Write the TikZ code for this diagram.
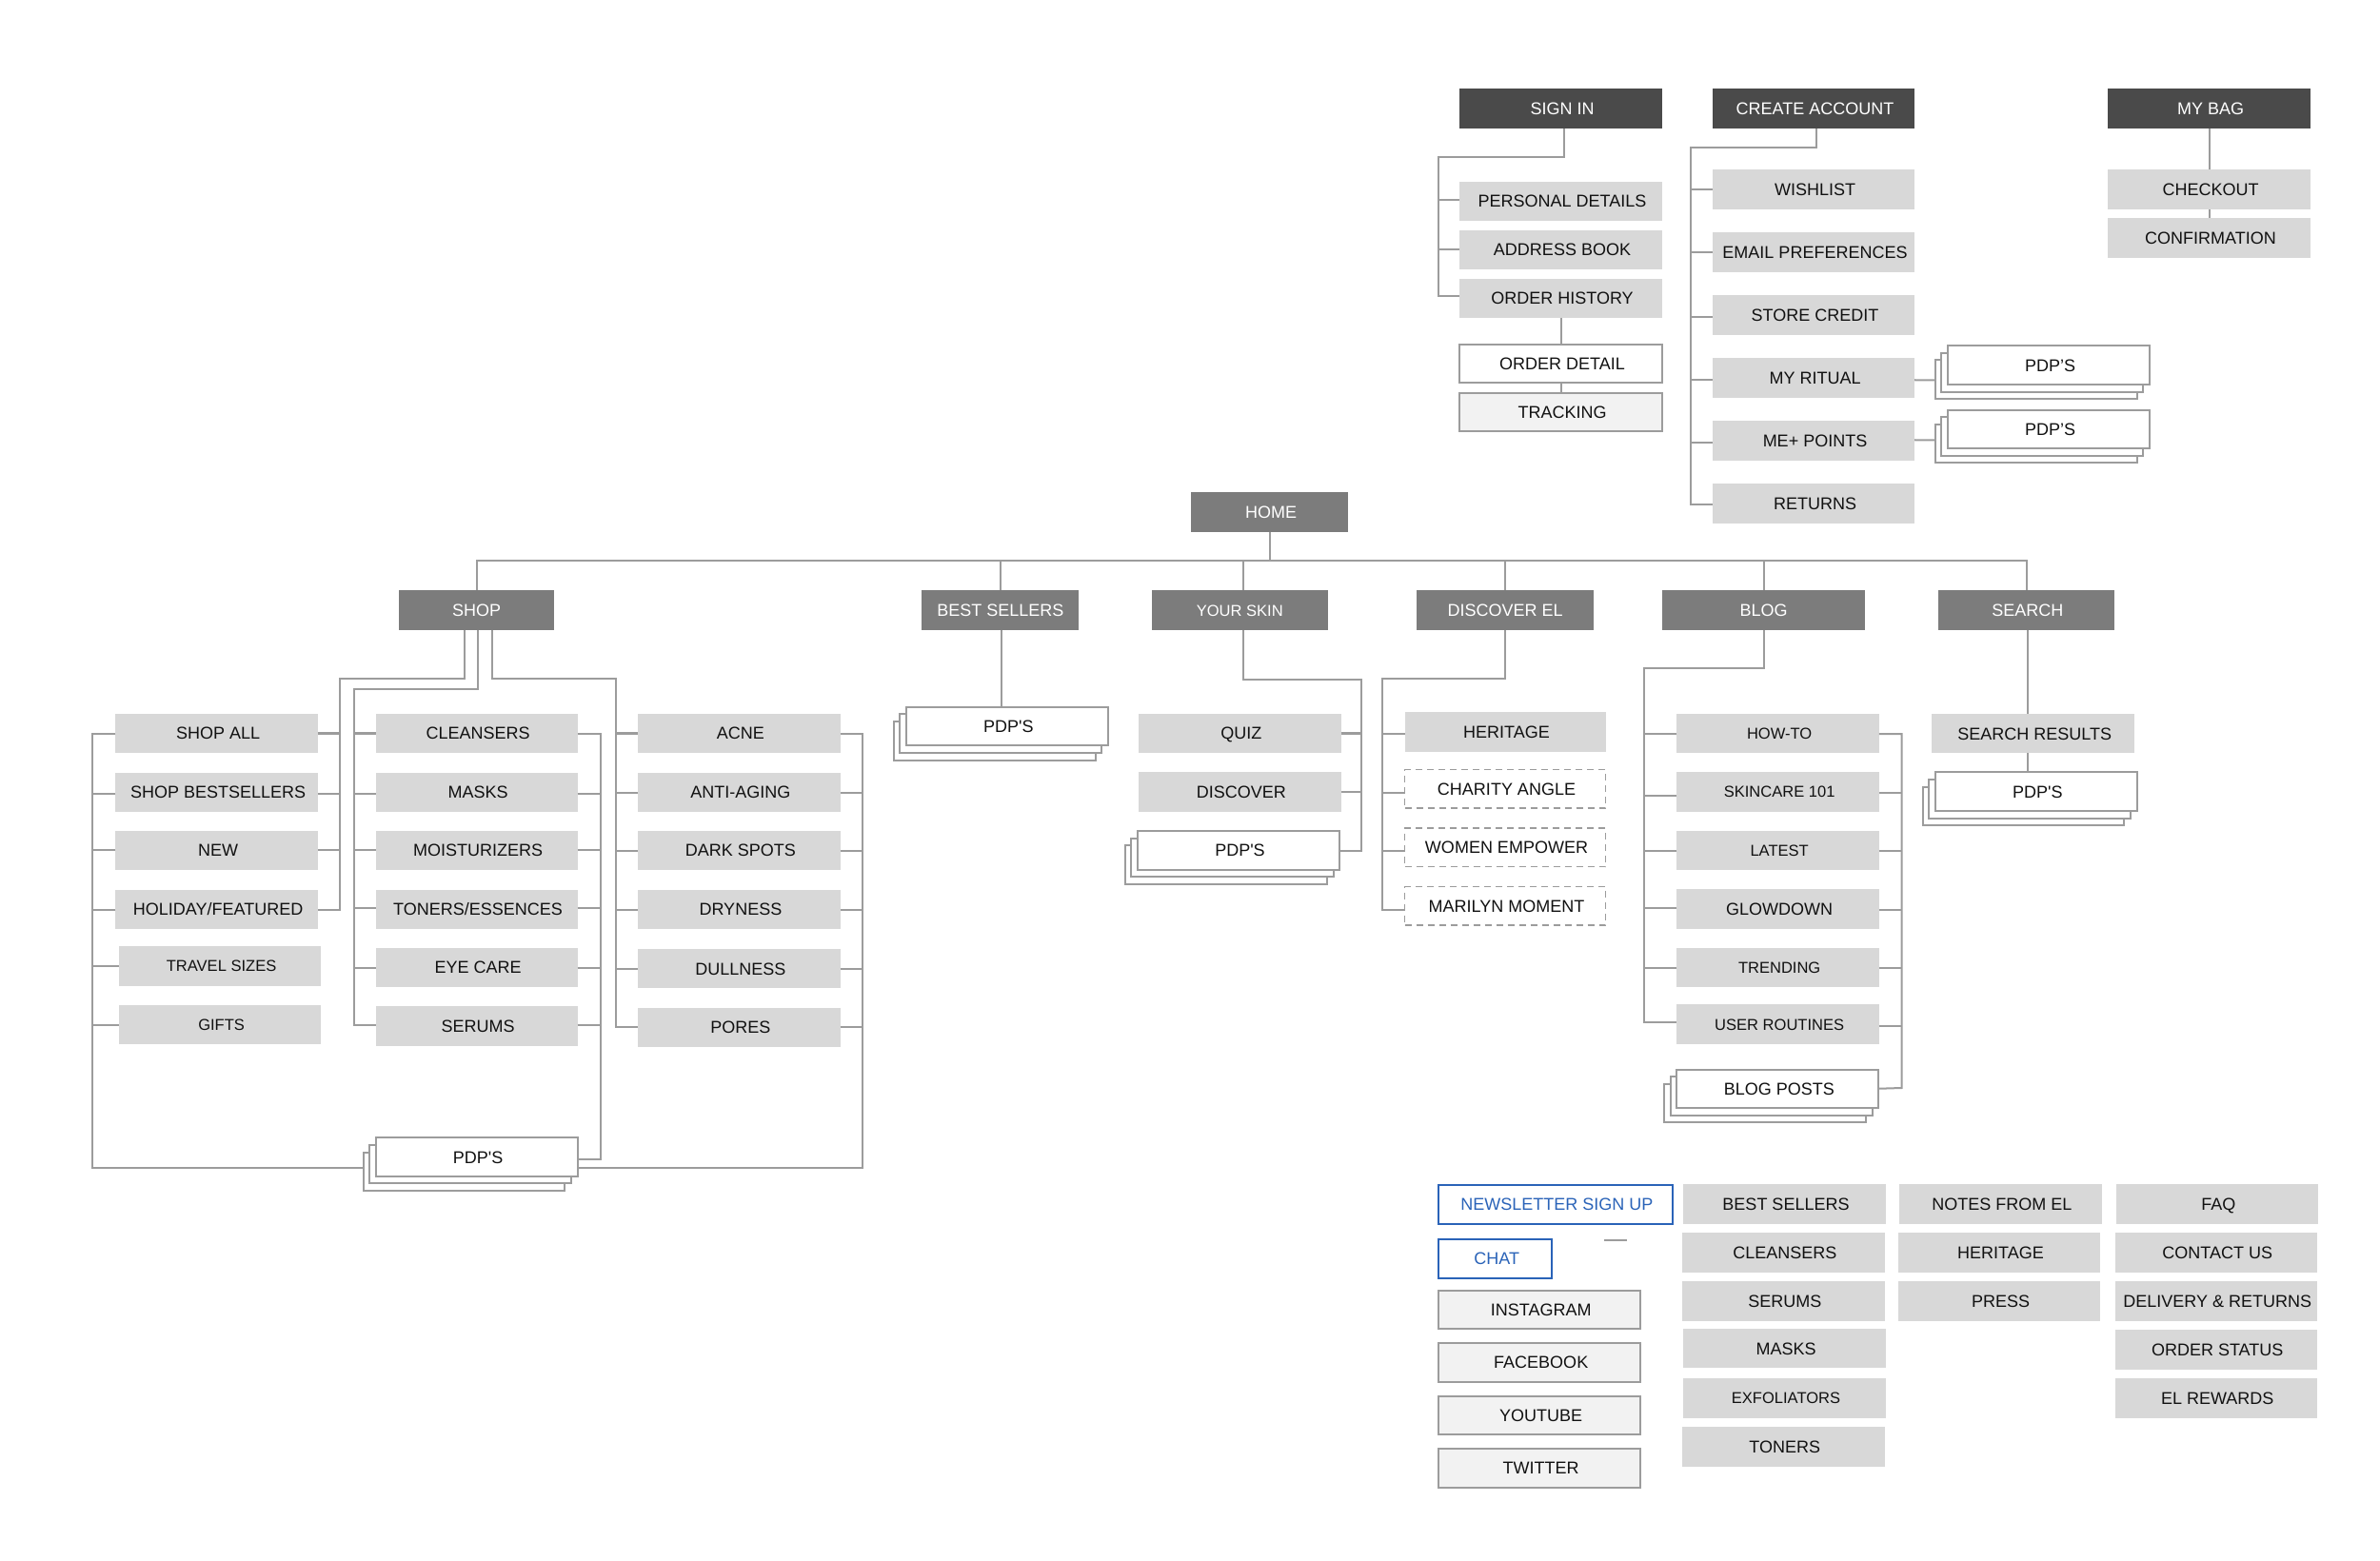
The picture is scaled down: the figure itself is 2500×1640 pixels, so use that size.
\documentclass[tikz,border=0pt]{standalone}
\usepackage{fontspec}
\newfontfamily\lsans{Liberation Sans}
\usetikzlibrary{calc}
\definecolor{cdark}{HTML}{4A4A4A}
\definecolor{cmid}{HTML}{7C7C7C}
\definecolor{clite}{HTML}{D8D8D8}
\definecolor{cpale}{HTML}{F2F2F2}
\definecolor{cline}{HTML}{9C9C9C}
\definecolor{cblue}{HTML}{2A63B8}
\definecolor{cink}{HTML}{111111}
\newcommand\tsh{\hspace*{0.03cm}}
\tikzset{
  x=0.01cm,y=-0.01cm,
  core/.style={inner sep=0pt,outer sep=0pt,text=cink,text height=3.67pt,text depth=0pt,font=\lsans\fontsize{5.12}{6}\selectfont},
  base/.style={core,execute at begin node=\tsh},
  sm/.style={font=\lsans\fontsize{4.7}{6}\selectfont,text height=3.37pt},
  dk/.style={base,fill=cdark,text=white},
  md/.style={core,fill=cmid,text=white},
  lt/.style={base,fill=clite},
  wh/.style={base,fill=white,draw=cline,line width=0.02cm},
  pl/.style={base,fill=cpale,draw=cline,line width=0.02cm},
  ds/.style={base,fill=white,draw=cline,line width=0.015cm,dash pattern=on 0.07cm off 0.05cm},
  bl/.style={base,fill=white,draw=cblue,line width=0.02cm,text=cblue},
  cn/.style={draw=cline,line width=0.02cm},
}
\newcommand\nd[7][]{%
  \pgfmathsetmacro\ndW{(#5-#3)*0.01}\pgfmathsetmacro\ndH{(#6-#4)*0.01}%
  \pgfmathsetmacro\ndX{(#3+#5)/2}\pgfmathsetmacro\ndY{(#4+#6)/2}%
  \node[#2,#1,minimum width=\ndW cm,minimum height=\ndH cm] (#7) at (\ndX,\ndY)}
% stack: name, top box x0 y0 x1 y1, text
\newcommand\stk[6][]{%
  \pgfmathsetmacro\sA{#3-13.2}\pgfmathsetmacro\sB{#4+15.2}\pgfmathsetmacro\sC{#5-13.2}\pgfmathsetmacro\sD{#6+15.2}%
  \nd{wh}{\sA}{\sB}{\sC}{\sD}{#2c}{};%
  \pgfmathsetmacro\sA{#3-6.6}\pgfmathsetmacro\sB{#4+7.6}\pgfmathsetmacro\sC{#5-6.6}\pgfmathsetmacro\sD{#6+7.6}%
  \nd{wh}{\sA}{\sB}{\sC}{\sD}{#2b}{};%
  \nd[#1]{wh}{#3}{#4}{#5}{#6}{#2}}
% horizontal tick between a node side and a rail: anchor point, rail, vertical offset
\newcommand\tk[3][0]{\draw[cn] ($(#2)+(0,#1)$) -- ($(#2 -| #3)+(0,#1)$);}
\begin{document}
\begin{tikzpicture}
\useasboundingbox (0,0) rectangle (2500,1640);
% ---- top row
\nd{dk}{1533}{93}{1746}{135}{signin}{SIGN IN};
\nd{dk}{1799}{93}{2011}{135}{create}{CREATE ACCOUNT};
\nd{dk}{2214}{93}{2427}{135}{mybag}{MY BAG};
\nd{lt}{1533}{191}{1746}{232}{pers}{PERSONAL DETAILS};
\nd{lt}{1533}{242}{1746}{283}{addr}{ADDRESS BOOK};
\nd{lt}{1533}{293}{1746}{334}{ordh}{ORDER HISTORY};
\nd{wh}{1533}{362}{1746}{402.5}{ordd}{ORDER DETAIL};
\nd{pl}{1533}{413}{1746}{453.5}{track}{TRACKING};
\nd{lt}{1799}{178.5}{2011}{220}{wish}{WISHLIST};
\nd{lt}{1799}{244.5}{2011}{286}{email}{EMAIL PREFERENCES};
\nd{lt}{1799}{310.5}{2011}{352}{store}{STORE CREDIT};
\nd{lt}{1799}{376.5}{2011}{418}{ritual}{MY RITUAL};
\nd{lt}{1799}{442.5}{2011}{484}{mepts}{ME+ POINTS};
\nd{lt}{1799}{508.5}{2011}{550}{retn}{RETURNS};
\nd{lt}{2214}{178.5}{2427}{220}{chk}{CHECKOUT};
\nd{lt}{2214}{229.5}{2427}{271}{conf}{CONFIRMATION};
\stk{pdpr}{2046}{363.3}{2258}{404}{PDP’S};
\stk{pdpm}{2046}{430.7}{2258}{471.3}{PDP’S};
\coordinate (railS) at (1510.6,165);
\coordinate (railC) at (1776,155.3);
\draw[cn] ($(signin.south)+(3,0)$) |- (railS) |- ($(ordh.west)+(0,-2.6)$);
\tk[-1]{pers.west}{railS}
\tk{addr.west}{railS}
\draw[cn] (ordh.south) -- (ordd.north);
\draw[cn] (ordd.south) -- (track.north);
\draw[cn] ($(create.south)+(2.5,0)$) |- (railC) |- ($(retn.west)+(0,1)$);
\tk{wish.west}{railC}
\tk{email.west}{railC}
\tk[2]{store.west}{railC}
\tk[2]{ritual.west}{railC}
\tk[2]{mepts.west}{railC}
\draw[cn] ($(mybag.south)+(0,0)$) -- (chk.north);
\draw[cn] (chk.south) -- (conf.north);
\draw[cn] ($(ritual.east)+(0,2)$) -- ($(pdprc.west)+(0,0.6)$);
\draw[cn] ($(mepts.east)+(0,-1)$) -- ($(pdpmc.west)+(0,-3.7)$);
% ---- home and level 1
\nd{md}{1251}{517.5}{1416}{559}{home}{\tsh HOME};
\nd{md}{418.8}{620.5}{582.4}{662}{shop}{SHOP};
\nd{md}{968.4}{620.5}{1133.2}{662}{bests}{BEST SELLERS};
\nd[sm]{md}{1209.7}{620.5}{1394.9}{662}{skin}{YOUR SKIN};
\nd{md}{1488.3}{620.5}{1674}{662}{disc}{DISCOVER EL};
\nd{md}{1746.4}{620.5}{1958.6}{662}{blog}{BLOG};
\nd{md}{2035.7}{620.5}{2221}{662}{search}{\tsh SEARCH};
\coordinate (bus) at (1333.5,589);
\draw[cn] (home.south) -- (bus);
\draw[cn] (shop.north) |- (bus) -| ($(search.north)+(1,0)$);
\draw[cn] (bests.north) -- (bests.north |- bus);
\draw[cn] ($(skin.north)+(3.3,0)$) -- ($(skin.north |- bus)+(3.3,0)$);
\draw[cn] (disc.north) -- (disc.north |- bus);
\draw[cn] (blog.north) -- (blog.north |- bus);
% ---- shop columns
\nd{lt}{121.4}{750}{333.8}{791}{a1}{SHOP ALL};
\nd{lt}{121.4}{811.5}{333.8}{852.5}{a2}{SHOP BESTSELLERS};
\nd{lt}{121.4}{873}{333.8}{914}{a3}{NEW};
\nd{lt}{121.4}{934.5}{333.8}{975.5}{a4}{HOLIDAY/FEATURED};
\nd[sm]{lt}{124.9}{994}{337.3}{1035.5}{a5}{TRAVEL SIZES};
\nd[sm]{lt}{124.9}{1055.5}{337.3}{1097}{a6}{GIFTS};
\nd{lt}{394.7}{750}{606.5}{791}{b1}{CLEANSERS};
\nd{lt}{394.7}{811.5}{606.5}{852.5}{b2}{MASKS};
\nd{lt}{394.7}{873}{606.5}{914}{b3}{MOISTURIZERS};
\nd{lt}{394.7}{934.5}{606.5}{975.5}{b4}{TONERS/ESSENCES};
\nd{lt}{394.7}{995.5}{606.5}{1036.7}{b5}{EYE CARE};
\nd{lt}{394.7}{1057}{606.5}{1098.7}{b6}{SERUMS};
\nd{lt}{670.2}{750}{882.6}{791}{c1}{ACNE};
\nd{lt}{670.2}{811.5}{882.6}{852.5}{c2}{ANTI-AGING};
\nd{lt}{670.2}{873}{882.6}{914}{c3}{DARK SPOTS};
\nd{lt}{670.2}{934.5}{882.6}{975.5}{c4}{DRYNESS};
\nd{lt}{670.2}{997}{882.6}{1038.4}{c5}{DULLNESS};
\nd{lt}{670.2}{1059}{882.6}{1100}{c6}{PORES};
\stk{pdps}{394.7}{1195.4}{606.5}{1235.7}{PDP'S};
\coordinate (rA) at (356.8,713.2);
\coordinate (rB) at (371.7,723.6);
\coordinate (rC) at (647.3,713.2);
\coordinate (rL) at (97.3,1226.6);
\coordinate (rM) at (631.2,1217.5);
\coordinate (rR) at (906.2,1226.6);
\draw[cn] ($(shop.south)+(-12.9,0)$) |- (rA) |- ($(a4.east)+(0,0.6)$);
\tk{a1.east}{rA}
\tk[2.2]{a2.east}{rA}
\tk[-0.8]{a3.east}{rA}
\draw[cn] ($(shop.south)+(1.4,0)$) |- (rB) |- ($(b6.west)+(0,-0.5)$);
\tk{b1.west}{rB}
\tk[2.2]{b2.west}{rB}
\tk[-0.8]{b3.west}{rB}
\tk[-0.7]{b4.west}{rB}
\tk[1]{b5.west}{rB}
\draw[cn] ($(shop.south)+(16.4,0)$) |- (rC) |- ($(c6.west)+(0,-0.8)$);
\tk{c1.west}{rC}
\tk[0.9]{c2.west}{rC}
\tk[0.9]{c3.west}{rC}
\tk[0.6]{c4.west}{rC}
\tk{c5.west}{rC}
% outer rails
\draw[cn] ($(a1.west)+(0,0.8)$) -| (rL) -- (rL -| pdpsc.west);
\tk[2.2]{a2.west}{rL}
\tk[-0.8]{a3.west}{rL}
\tk[0.6]{a4.west}{rL}
\tk[0.6]{a5.west}{rL}
\tk[0.8]{a6.west}{rL}
\draw[cn] ($(b1.east)+(0,0.8)$) -| (rM) -- (rM -| pdps.east);
\tk[2.2]{b2.east}{rM}
\tk[-0.8]{b3.east}{rM}
\tk[-0.7]{b4.east}{rM}
\tk[1]{b5.east}{rM}
\tk[-0.8]{b6.east}{rM}
\draw[cn] ($(c1.east)+(0,0.8)$) -| (rR) -- (rR -| pdps.east);
\tk[0.9]{c2.east}{rR}
\tk[0.9]{c3.east}{rR}
\tk[0.6]{c4.east}{rR}
\tk{c5.east}{rR}
\tk[-0.8]{c6.east}{rR}
% ---- best sellers
\stk{pdpb}{952}{742.7}{1163.8}{783.3}{PDP'S};
\draw[cn] ($(bests.south)+(1.2,0)$) -- ($(bests.south |- pdpb.north)+(1.2,0)$);
% ---- your skin
\nd{lt}{1195.9}{749.7}{1408.7}{791.3}{quiz}{QUIZ};
\nd{lt}{1195.9}{811}{1408.7}{852.7}{dsc}{DISCOVER};
\stk{pdpy}{1194.9}{873}{1407.1}{913.7}{PDP'S};
\coordinate (rY) at (1430.1,714.3);
\draw[cn] ($(skin.south)+(3.3,0)$) |- (rY) |- ($(pdpy.east)+(0,0.6)$);
\tk{quiz.east}{rY}
\tk{dsc.east}{rY}
% ---- discover el
\nd{lt}{1475.5}{748.3}{1686.5}{789.7}{her}{HERITAGE};
\nd{ds}{1475.5}{808.7}{1686.5}{849}{char}{CHARITY ANGLE};
\nd{ds}{1475.5}{870}{1686.5}{910.7}{women}{WOMEN EMPOWER};
\nd{ds}{1475.5}{931.7}{1686.5}{972}{maril}{MARILYN MOMENT};
\coordinate (rD) at (1452,713);
\draw[cn] (disc.south) |- (rD) |- ($(maril.west)+(0,3.9)$);
\tk[2]{her.west}{rD}
\tk[3.8]{char.west}{rD}
\tk[3.7]{women.west}{rD}
% ---- blog
\nd[sm]{lt}{1761.4}{749.7}{1973.9}{791.4}{h1}{HOW-TO};
\nd[sm]{lt}{1761.4}{811}{1973.9}{852.6}{h2}{SKINCARE 101};
\nd[sm]{lt}{1761.4}{873}{1973.9}{914.2}{h3}{LATEST};
\nd{lt}{1761.4}{934.2}{1973.9}{975.8}{h4}{GLOWDOWN};
\nd[sm]{lt}{1761.4}{995.7}{1973.9}{1037}{h5}{TRENDING};
\nd[sm]{lt}{1761.4}{1055.4}{1973.9}{1097.1}{h6}{USER ROUTINES};
\stk{pdpg}{1761.4}{1123.5}{1973.2}{1164}{BLOG POSTS};
\coordinate (rG) at (1726.8,702.2);
\coordinate (rH) at (1997.5,1143);
\draw[cn] (blog.south) |- (rG) |- ($(h6.west)+(0,-2.4)$);
\tk{h1.west}{rG}
\tk[3.8]{h2.west}{rG}
\tk[0.7]{h3.west}{rG}
\tk[-0.6]{h4.west}{rG}
\tk[0.5]{h5.west}{rG}
\draw[cn] ($(h1.east)+(0,0.5)$) -| (rH) -- (pdpg.east);
\tk[0.9]{h2.east}{rH}
\tk[0.7]{h3.east}{rH}
\tk[0.9]{h4.east}{rH}
\tk[0.5]{h5.east}{rH}
\tk[2.1]{h6.east}{rH}
% ---- search
\nd{lt}{2029.3}{749.7}{2242.1}{791.4}{sres}{SEARCH RESULTS};
\stk{pdpq}{2032.9}{811.3}{2244.6}{852.2}{PDP'S};
\draw[cn] ($(search.south)+(1.2,0)$) -- ($(search.south |- sres.north)+(1.2,0)$);
\draw[cn] ($(sres.south)+(-6,0)$) -- ($(sres.south |- pdpq.north)+(-6,0)$);
% ---- footer
\nd{bl}{1511}{1245}{1756.6}{1285.7}{news}{NEWSLETTER SIGN UP};
\nd{bl}{1511}{1302}{1630.3}{1342.7}{chat}{CHAT};
\coordinate (dashA) at (1685,1303);
\coordinate (dashB) at (1709.4,1303);
\draw[cn] (dashA) -- (dashB);
\nd{pl}{1511}{1356}{1723.4}{1396.3}{insta}{INSTAGRAM};
\nd{pl}{1511}{1411}{1723.4}{1452}{face}{FACEBOOK};
\nd{pl}{1511}{1467}{1723.4}{1507.3}{yt}{YOUTUBE};
\nd{pl}{1511}{1522}{1723.4}{1563}{tw}{TWITTER};
\nd{lt}{1768}{1244}{1981}{1285.7}{f1}{BEST SELLERS};
\nd{lt}{1766.8}{1295.3}{1979.8}{1336.7}{f2}{CLEANSERS};
\nd{lt}{1766.8}{1346.3}{1979.8}{1387.7}{f3}{SERUMS};
\nd{lt}{1768}{1396}{1981}{1437.3}{f4}{MASKS};
\nd[sm]{lt}{1768}{1448.3}{1981}{1489.7}{f5}{EXFOLIATORS};
\nd{lt}{1766.8}{1499.3}{1979.8}{1540.7}{f6}{TONERS};
\nd{lt}{1995}{1244}{2207.5}{1285.7}{g1}{NOTES FROM EL};
\nd{lt}{1993.8}{1295.3}{2206.2}{1336.7}{g2}{HERITAGE};
\nd{lt}{1993.8}{1346.3}{2206.2}{1387.7}{g3}{PRESS};
\nd{lt}{2222.8}{1244}{2435}{1285.7}{k1}{FAQ};
\nd{lt}{2221.5}{1295.3}{2433.9}{1336.7}{k2}{CONTACT US};
\nd{lt}{2221.5}{1346.3}{2433.9}{1387.7}{k3}{DELIVERY \& RETURNS};
\nd{lt}{2221.5}{1397.3}{2433.9}{1438.7}{k4}{ORDER STATUS};
\nd{lt}{2221.5}{1448.3}{2433.9}{1489.7}{k5}{EL REWARDS};
\end{tikzpicture}
\end{document}
